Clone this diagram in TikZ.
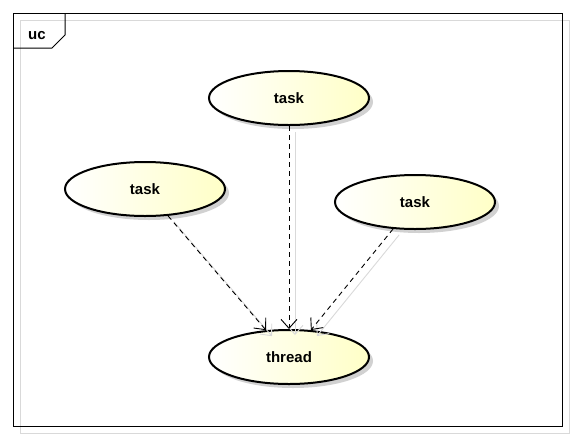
\documentclass[tikz,border=0pt]{standalone}
\usepackage{fontspec}
\setmainfont{Liberation Sans}
\usetikzlibrary{shapes.geometric,arrows.meta,shadows}
\tikzset{
  usecase/.style={ellipse, draw=black, line width=2pt, minimum width=160pt, minimum height=54pt, inner sep=0pt,
    left color=white, right color=yellow!22, shading angle=90,
    drop shadow={shadow xshift=4pt, shadow yshift=-4pt, fill=black!30, opacity=0.6},
    font=\fontsize{15}{18}\selectfont\bfseries},
  dep/.style={draw=black, line width=0.9pt, dash pattern=on 5pt off 4pt, -{Straight Barb[length=9pt,width=16pt,line width=0.9pt]}},
  depshadow/.style={draw=black!15, line width=0.9pt, -{Straight Barb[length=9pt,width=16pt,line width=0.9pt]}},
}
\begin{document}
\begin{tikzpicture}[x=1pt,y=-1pt]
\useasboundingbox (0,0) rectangle (576,440);
% frame
\draw[black!15, line width=1pt] (20,20) rectangle (569,433);
\draw[black, line width=1pt] (13,13) rectangle (562,426);
\draw[black, line width=1pt] (13,48) -- (52,48) -- (65,35) -- (65,13);
\node[font=\fontsize{15}{18}\selectfont\bfseries, anchor=base] (uc) at (37,39) {uc};
% use cases
\node[usecase] (t1) at (289,98) {task};
\node[usecase] (t2) at (145,189) {task};
\node[usecase] (t3) at (415,202) {task};
\node[usecase] (th) at (289,357) {thread};
% connector shadows
\begin{scope}[transform canvas={shift={(6pt,-6pt)}}]
\draw[depshadow] (t2) -- (th);
\draw[depshadow] (t1) -- (th);
\draw[depshadow] (t3) -- (th);
\end{scope}
% connectors
\draw[dep] (t2) -- (th);
\draw[dep] (t1) -- (th);
\draw[dep] (t3) -- (th);
\end{tikzpicture}
\end{document}
